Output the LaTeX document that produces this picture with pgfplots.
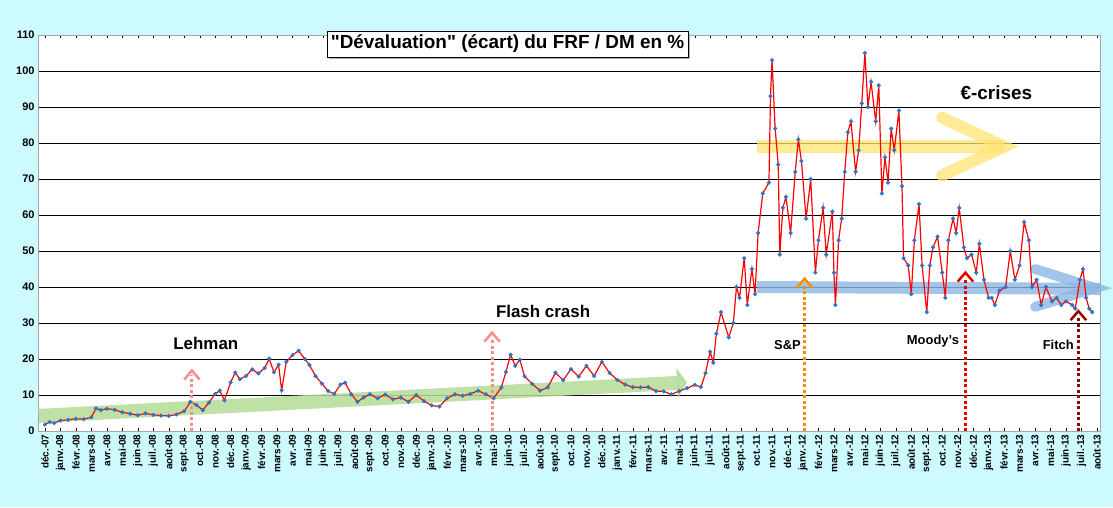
\documentclass[border=0pt]{standalone}
\usepackage{pgfplots}
\pgfplotsset{compat=1.18}
\usepackage{fontspec}
\setmainfont{Liberation Sans}
\usetikzlibrary{arrows.meta,shadows,backgrounds}
\definecolor{bgc}{RGB}{204,250,255}
\definecolor{ptblue}{RGB}{46,117,200}
\definecolor{grn}{RGB}{180,220,150}
\begin{document}
\begin{tikzpicture}
\begin{axis}[name=ax,at={(0,0)},anchor=south west,scale only axis,width=1062bp,height=396bp,
 xmin=-0.45,xmax=68.2,ymin=0,ymax=110,
 axis background/.style={fill=white},
 axis line style={gray!70},
 ytick={0,10,...,110},ymajorgrids,grid style={black,line width=0.6pt},
 xtick={0,...,68},
 xticklabels={déc.-07,janv.-08,févr.-08,mars-08,avr.-08,mai-08,juin-08,juil.-08,août-08,sept.-08,oct.-08,nov.-08,déc.-08,janv.-09,févr.-09,mars-09,avr.-09,mai-09,juin-09,juil.-09,août-09,sept.-09,oct.-09,nov.-09,déc.-09,janv.-10,févr.-10,mars-10,avr.-10,mai-10,juin-10,juil.-10,août-10,sept.-10,oct.-10,nov.-10,déc.-10,janv.-11,févr.-11,mars-11,avr.-11,mai-11,juin-11,juil.-11,août-11,sept.-11,oct.-11,nov.-11,déc.-11,janv.-12,févr.-12,mars-12,avr.-12,mai-12,juin-12,juil.-12,août-12,sept.-12,oct.-12,nov.-12,déc.-12,janv.-13,févr.-13,mars-13,avr.-13,mai-13,juin-13,juil.-13,août-13},
 x tick label style={rotate=90,anchor=east,font=\bfseries\fontsize{10}{11}\selectfont},
 y tick label style={font=\bfseries\fontsize{11}{12}\selectfont},
 /pgf/number format/assume math mode=true,
 tick style={black},major tick length=3pt,
 clip=false]
% green trend arrow
\addplot[draw=grn,line width=14pt,opacity=0.85,-{Triangle[length=10pt,width=30pt]}] coordinates {(-0.4,4.2)(41.5,13.5)};
% blue arrow
\addplot[draw=cyan!60!blue!45,line width=12pt,opacity=0.8] coordinates {(46,40)(68.2,39.5)};
\addplot[draw=cyan!60!blue!45,line width=10pt,opacity=0.8,line cap=round] coordinates {(64,45)(67.9,39.7)(64,34.5)};
% yellow arrow
\addplot[draw=orange!40!yellow!55,line width=13pt,opacity=0.75] coordinates {(46,79)(62,79)};
\addplot[draw=orange!40!yellow!55,line width=12pt,opacity=0.75,line cap=round] coordinates {(58,87)(62,79)(58,71)};
% data
\addplot[red,line width=1.2pt,mark=*,mark size=1.4pt,mark options={ptblue,fill=ptblue,draw=ptblue}] coordinates {
(0,1.8)(0.3,2.5)(0.6,2.2)(1,2.9)(1.5,3.1)(2,3.4)(2.5,3.3)(3,3.8)(3.3,6.3)(3.6,5.8)(4,6.2)(4.5,5.9)(5,5.2)(5.5,4.8)(6,4.4)(6.5,4.9)(7,4.5)(7.5,4.3)(8,4.2)(8.5,4.6)(9,5.5)(9.4,8.1)(9.8,7.2)(10.2,5.8)(10.6,7.9)(11,10.3)(11.3,11.2)(11.6,8.5)(12,13.5)(12.3,16.2)(12.6,14.4)(13,15.3)(13.4,17.1)(13.8,16)(14.2,17.5)(14.5,20.1)(14.8,16.3)(15.1,18.4)(15.3,11.3)(15.6,19.2)(16,21.1)(16.4,22.3)(16.8,20)(17.1,18.3)(17.5,15.2)(17.9,13.2)(18.3,11.1)(18.7,10.3)(19.1,12.9)(19.4,13.4)(19.8,10.2)(20.2,8.1)(20.6,9.3)(21,10.2)(21.5,9.1)(22,10.1)(22.5,8.8)(23,9.3)(23.5,8.1)(24,10)(24.5,8.3)(25,7.1)(25.5,6.8)(26,9.1)(26.5,10.2)(27,9.8)(27.5,10.3)(28,11.2)(28.5,10.2)(29,9.1)(29.5,12.1)(29.8,16.4)(30.1,21.2)(30.4,18.1)(30.7,19.8)(31,15.2)(31.5,13.1)(32,11.2)(32.5,12.1)(33,16.2)(33.5,14.1)(34,17.2)(34.5,15.1)(35,18.1)(35.5,15.3)(36,19.2)(36.5,16.1)(37,14.2)(37.5,12.9)(38,12.2)(38.5,12.1)(39,12.2)(39.5,11.1)(40,11)(40.5,10.2)(41,11.1)(41.5,11.9)(42,12.8)(42.4,12.2)(42.7,16.1)(43,22)(43.2,19)(43.4,27)(43.7,33)(44.2,26)(44.5,30)(44.7,40)(44.9,37)(45.2,48)(45.4,35)(45.7,45)(45.9,38)(46.1,55)(46.4,66)(46.8,69)(46.9,93)(47.0,103)(47.2,84)(47.4,74)(47.5,49)(47.7,62)(47.9,65)(48.2,55)(48.5,72)(48.7,81)(48.9,75)(49.2,59)(49.5,70)(49.8,44)(50.0,53)(50.3,62)(50.5,49)(50.9,61)(51.0,44)(51.1,35)(51.3,53)(51.5,59)(51.7,72)(51.9,83)(52.1,86)(52.4,72)(52.6,78)(52.8,91)(53.0,105)(53.2,90)(53.4,97)(53.7,86)(53.9,96)(54.1,66)(54.3,76)(54.5,69)(54.7,84)(54.9,78)(55.2,89)(55.4,68)(55.5,48)(55.8,46)(56.0,38)(56.2,53)(56.5,63)(56.7,46)(57.0,33)(57.2,46)(57.4,51)(57.7,54)(58.0,44)(58.2,37)(58.4,53)(58.7,59)(58.9,55)(59.1,62)(59.4,51)(59.6,48)(59.9,49)(60.2,44)(60.4,52)(60.7,42)(61.0,37)(61.2,37)(61.4,35)(61.7,39)(62.1,40)(62.4,50)(62.7,42)(63.0,46)(63.3,58)(63.6,53)(63.8,40)(64.1,42)(64.4,35)(64.7,40)(65.1,36)(65.4,37)(65.7,35)(66.0,36)(66.4,35)(66.6,34)(66.9,42)(67.1,45)(67.3,37)(67.5,34)(67.7,33)
};
% event arrows
\pgfplotsset{evt/.style={line width=3pt,dash pattern=on 3pt off 2.5pt}}
\addplot[draw=red!45,evt] coordinates {(9.5,0)(9.5,15.5)};
\addplot[draw=red!45,line width=2.5pt] coordinates {(9,14.3)(9.5,16.8)(10,14.3)};
\addplot[draw=red!45,evt] coordinates {(28.9,0)(28.9,25.5)};
\addplot[draw=red!45,line width=2.5pt] coordinates {(28.4,24.8)(28.9,27.3)(29.4,24.8)};
\addplot[draw=orange!90!yellow,evt] coordinates {(49.1,0)(49.1,40.5)};
\addplot[draw=orange!90!yellow,line width=2.5pt] coordinates {(48.6,39.8)(49.1,42.3)(49.6,39.8)};
\addplot[draw=red!90!black,evt] coordinates {(59.5,0)(59.5,42.5)};
\addplot[draw=red!90!black,line width=2.5pt] coordinates {(59,41.5)(59.5,44)(60,41.5)};
\addplot[draw=red!60!black,evt] coordinates {(66.8,0)(66.8,31.5)};
\addplot[draw=red!60!black,line width=2.5pt] coordinates {(66.3,30.8)(66.8,33.3)(67.3,30.8)};
\node[font=\bfseries\fontsize{17}{18}\selectfont] at (axis cs:10.4,24.4) {Lehman};
\node[font=\bfseries\fontsize{17}{18}\selectfont] at (axis cs:32.2,33.2) {Flash crash};
\node[font=\bfseries\fontsize{13}{14}\selectfont] at (axis cs:48,23.8) {S\&P};
\node[font=\bfseries\fontsize{13}{14}\selectfont] at (axis cs:57.4,25) {Moody's};
\node[font=\bfseries\fontsize{13}{14}\selectfont] at (axis cs:65.5,23.8) {Fitch};
\node[font=\bfseries\fontsize{19}{20}\selectfont] at (axis cs:61.5,94) {€-crises};
\node[draw=black,fill=white,font=\bfseries\fontsize{19}{20}\selectfont,inner sep=4pt,drop shadow={shadow xshift=2pt,shadow yshift=-2pt,fill=gray!60,opacity=1}] at (axis cs:29.9,107.5) {\textquotedbl Dévaluation\textquotedbl{} (écart) du FRF / DM en \%};
\end{axis}
\useasboundingbox ([shift={(-38bp,-76bp)}]ax.south west) rectangle ([shift={(13bp,35bp)}]ax.north east);
\begin{pgfonlayer}{background}
\fill[bgc] ([shift={(-38bp,-76bp)}]ax.south west) rectangle ([shift={(13bp,35bp)}]ax.north east);
\end{pgfonlayer}
\end{tikzpicture}
\end{document}
